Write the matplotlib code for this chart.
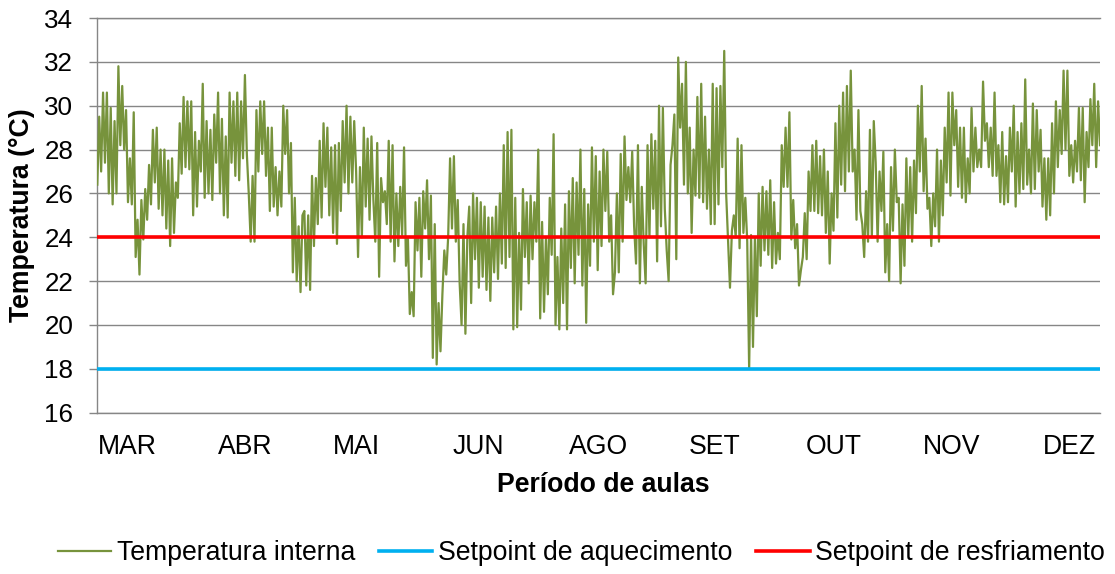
import numpy as np
import matplotlib
matplotlib.use("Agg")
import matplotlib.pyplot as plt

plt.rcParams['font.family'] = ['Liberation Sans', 'DejaVu Sans']

# ---------------- data ----------------
temp_mar_abr = [
    26.4, 29.5, 27.0, 30.6, 27.4, 30.6, 26.0, 29.9, 25.5, 29.3,
    26.0, 31.8, 28.2, 30.9, 28.0, 29.8, 25.6, 27.6, 25.5, 29.7,
    23.1, 24.8, 22.3, 25.7, 23.9, 26.2, 24.8, 27.3, 25.5, 28.9,
    26.5, 29.0, 25.3, 28.0, 25.0, 28.0, 24.4, 27.5, 23.6, 27.6,
    24.2, 26.5, 25.8, 29.2, 26.9, 30.4, 27.2, 30.2, 27.1, 30.2,
    25.0, 28.8, 25.4, 28.4, 27.0, 31.0, 25.8, 29.3, 26.0, 28.9,
    25.7, 29.6, 27.4, 30.6, 26.0, 29.4, 25.0, 28.6, 24.9, 30.6,
    27.4, 30.2, 26.8, 30.6, 26.6, 30.2, 27.6, 31.4, 27.8, 26.0,
    23.8, 26.8, 23.8, 29.8, 27.0, 30.2, 27.8, 30.2, 26.8, 29.0,
    25.2, 29.0, 25.4, 27.2, 25.0, 27.0, 25.4, 30.0, 27.8, 29.8,
    26.0, 28.3, 22.4, 25.8, 22.0, 24.5, 21.5, 25.0,
]
temp_mai_jun = [
    25.2, 21.8, 25.0, 21.6, 26.8, 23.6, 26.7, 24.6, 28.4, 24.9,
    29.2, 26.3, 29.0, 25.0, 28.1, 24.2, 28.2, 23.7, 28.3, 25.2,
    29.3, 26.5, 30.0, 26.0, 29.5, 26.5, 29.3, 27.0, 23.1, 27.2,
    24.0, 29.0, 25.4, 28.5, 24.8, 28.6, 25.7, 23.8, 28.3, 22.2,
    26.7, 25.6, 26.1, 24.6, 28.4, 23.8, 28.2, 22.9, 26.0, 23.6,
    26.3, 24.1, 28.1, 22.7, 24.0, 20.5, 21.5, 20.4, 25.6, 23.4,
    25.8, 22.2, 26.1, 24.4, 26.6, 23.0, 25.9, 18.5, 24.6, 18.2,
    21.0, 18.8, 21.4, 23.4, 22.3, 24.0, 27.6, 24.4, 27.7, 23.8,
    25.7, 21.9, 20.0, 24.6, 19.6, 24.0, 25.4, 21.0, 26.0, 23.0,
    25.8, 21.7, 25.6, 22.2, 25.4, 21.6, 24.9, 21.1, 24.9, 22.4,
    25.4,
]
temp_jun_set = [
    22.1, 26.0, 22.8, 28.2, 22.6, 28.8, 23.1, 28.9, 19.8, 25.8,
    19.9, 24.2, 20.7, 26.2, 23.1, 25.6, 21.9, 25.9, 23.0, 25.6,
    23.8, 28.0, 20.3, 24.7, 20.6, 24.0, 21.4, 25.8, 23.2, 28.7,
    20.0, 23.1, 19.8, 24.4, 21.0, 25.5, 19.8, 26.1, 22.6, 26.7,
    21.9, 26.5, 23.2, 28.0, 21.8, 26.2, 20.1, 25.5, 22.7, 28.1,
    23.8, 27.7, 22.5, 27.0, 23.6, 28.0, 25.2, 27.9, 23.8, 25.0,
    21.4, 22.4, 26.0, 22.4, 27.8, 23.8, 28.6, 25.7, 27.2, 25.6,
    27.9, 24.5, 22.8, 28.2, 21.9, 26.3, 23.7, 21.9, 28.2, 24.0,
    28.7, 25.3, 28.4, 22.9, 30.0, 24.5, 29.9, 25.3, 23.4, 22.0,
    27.3, 28.2, 29.6, 23.0, 32.2, 29.0, 31.0, 26.4, 32.0, 26.0,
    29.0, 24.2, 28.0,
]
temp_set_out = [
    25.9, 30.4, 25.8, 31.0, 25.6, 29.5, 25.3, 28.0, 24.6, 31.0,
    24.6, 30.8, 25.5, 30.9, 27.2, 32.5, 26.0, 23.8, 21.7, 24.3,
    25.0, 24.0, 28.5, 23.5, 28.2, 24.2, 25.8, 23.8, 18.0, 24.1,
    19.0, 24.0, 20.4, 26.0, 22.7, 26.3, 23.4, 26.1, 23.2, 26.6,
    22.6, 25.6, 22.8, 24.2, 23.0, 28.2, 26.3, 29.0, 26.3, 29.7,
    23.9, 25.7, 23.5, 24.6, 21.8, 22.5, 23.1, 25.1, 23.0, 27.0,
    25.2, 28.2, 25.2, 28.4, 25.1, 27.7, 25.0, 28.0, 24.2, 27.0,
    22.8, 26.0, 24.3, 29.2, 24.9, 30.0, 26.4, 30.6, 26.1, 30.9,
    27.0, 31.6, 27.0, 28.0, 24.8, 29.8, 25.2, 24.6, 23.1, 26.1,
    23.8, 28.9, 24.0, 29.3, 27.4, 23.8, 27.0, 25.2, 27.9, 22.4,
    24.6, 22.0, 27.2, 24.3, 28.0, 25.6,
]
temp_nov_dez = [
    25.8, 21.9, 25.5, 22.7, 27.6, 24.0, 27.2, 23.8, 27.5, 25.1,
    30.0, 27.0, 30.9, 26.1, 28.5, 25.3, 25.8, 23.6, 26.0, 24.5,
    28.0, 23.8, 27.5, 25.0, 29.0, 26.5, 30.6, 25.9, 30.6, 28.2,
    29.8, 26.3, 29.0, 25.8, 29.0, 25.6, 27.6, 26.0, 29.9, 27.0,
    29.0, 27.2, 28.0, 27.2, 31.1, 28.4, 29.2, 27.2, 29.0, 26.8,
    30.6, 26.8, 28.2, 25.6, 28.8, 25.5, 27.7, 25.6, 29.0, 27.0,
    30.0, 25.4, 28.8, 26.0, 29.2, 26.2, 31.2, 26.4, 28.0, 26.0,
    30.1, 26.2, 29.8, 27.0, 28.9, 25.4, 27.6, 24.8, 27.6, 25.0,
    29.2, 26.0, 30.2, 27.2, 29.8, 27.8, 31.6, 28.0, 31.6, 26.8,
    28.2, 26.5, 28.4, 27.0, 29.9, 26.6, 29.9, 25.6, 28.8, 27.2,
    30.3, 28.2, 31.0, 27.2, 30.2, 28.2,
]
setpoint_aquecimento = 18.0
setpoint_resfriamento = 24.0
month_labels = ['MAR', 'ABR', 'MAI', 'JUN', 'AGO', 'SET', 'OUT', 'NOV', 'DEZ']

temperatura = np.array(temp_mar_abr + temp_mai_jun + temp_jun_set
                       + temp_set_out + temp_nov_dez)
n = len(temperatura)
idx = np.arange(n)

# ---------------- style ----------------
FS = 19.2
FS_Y = 18.7
GRAY = '#868686'
GREEN = '#77933C'
BLUE = '#00B0F0'
RED = '#FF0000'

W, H = 1115, 574
fig = plt.figure(figsize=(W / 100, H / 100), dpi=100)
x0, x1, y0, y1 = 97.3, 1100, 18, 412.7
ax = fig.add_axes([x0 / W, 1 - y1 / H, (x1 - x0) / W, (y1 - y0) / H])

ax.plot(idx, temperatura, color=GREEN, lw=1.6, label='Temperatura interna', zorder=3)
ax.plot(idx, np.full(n, setpoint_aquecimento), color=BLUE, lw=2.6,
        label='Setpoint de aquecimento', zorder=4)
ax.plot(idx, np.full(n, setpoint_resfriamento), color=RED, lw=2.6,
        label='Setpoint de resfriamento', zorder=5)

ax.set_xlim(0, n - 1)
ax.set_ylim(16, 34)
ax.set_yticks(np.arange(16, 35, 2))
tick_frac = [0.0296, 0.1479, 0.2587, 0.3804, 0.5, 0.616, 0.7344, 0.852, 0.9696]
ax.set_xticks([f * (n - 1) for f in tick_frac])
ax.set_xticklabels(month_labels)

ax.grid(axis='y', color=GRAY, lw=1.0, zorder=0)
ax.set_axisbelow(True)
ax.spines['right'].set_visible(False)
for s in ['left', 'top', 'bottom']:
    ax.spines[s].set_color(GRAY)
    ax.spines[s].set_linewidth(1.0)

ax.tick_params(axis='y', direction='out', length=5.8, width=1.0, color=GRAY,
               pad=11.5, labelsize=FS_Y, labelcolor='black')
ax.tick_params(axis='x', length=0, pad=15.5, labelsize=FS, labelcolor='black')

ax.set_ylabel('Temperatura (°C)', fontsize=FS, fontweight='bold')
ax.yaxis.set_label_coords((35 - x0) / (x1 - x0), 0.5)
ax.set_xlabel('Período de aulas', fontsize=FS, fontweight='bold')
ax.xaxis.set_label_coords((603 - x0) / (x1 - x0), -(472 - y1) / (y1 - y0))

fig.legend(loc='center', bbox_to_anchor=(581.5 / W, 1 - 553 / H), ncol=3,
           frameon=False, fontsize=FS, handlelength=2.0, handletextpad=0.2,
           columnspacing=0.9)

fig.savefig('out.png', dpi=100)
